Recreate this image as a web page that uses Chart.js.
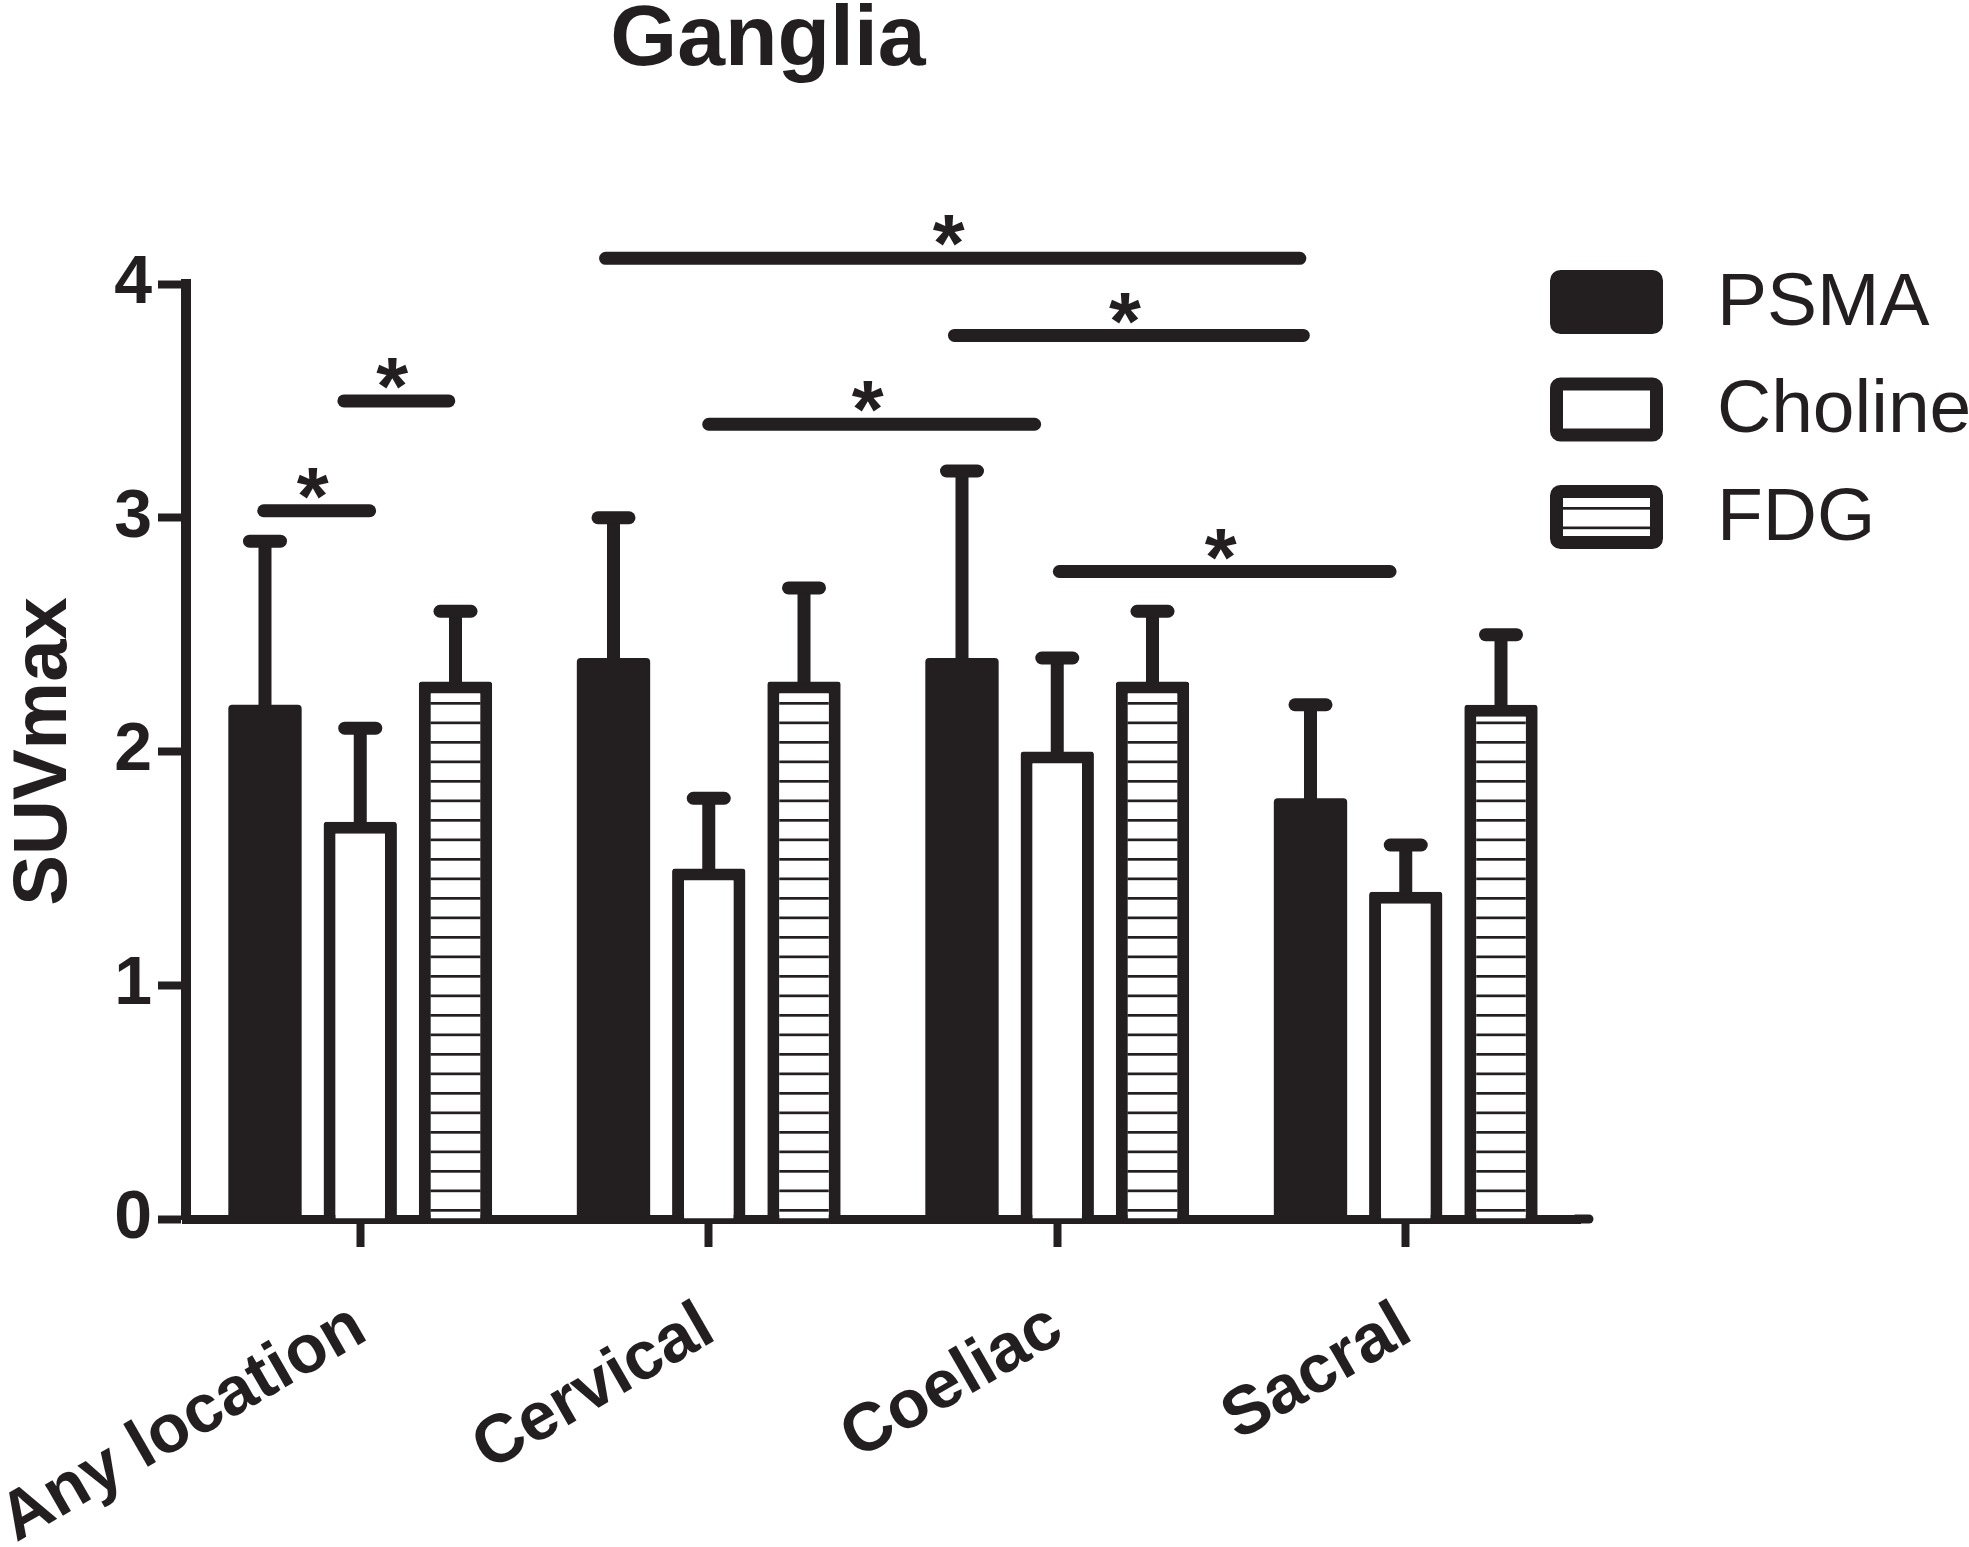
<!DOCTYPE html>
<html>
<head>
<meta charset="utf-8">
<script src="https://cdn.jsdelivr.net/npm/chart.js@4"></script>
<style>
  html, body { margin: 0; padding: 0; background: #ffffff; }
  #wrap { width: 1969px; height: 1547px; }
</style>
</head>
<body>
<div id="wrap"><canvas id="c" width="1969" height="1547"></canvas></div>
<script>
// ---------------- data ----------------
const chartTitle = 'Ganglia';
const yAxisTitle = 'SUVmax';
const categories = ['Any location', 'Cervical', 'Coeliac', 'Sacral'];
const seriesNames = ['PSMA', 'Choline', 'FDG'];
const psmaValues    = [2.2, 2.4, 2.4, 1.8];
const psmaErrors    = [0.7, 0.6, 0.8, 0.4];
const cholineValues = [1.7, 1.5, 2.0, 1.4];
const cholineErrors = [0.4, 0.3, 0.4, 0.2];
const fdgValues     = [2.3, 2.3, 2.3, 2.2];
const fdgErrors     = [0.3, 0.4, 0.3, 0.3];
const yTicks = [0, 1, 2, 3, 4];
// significance brackets: start / end (category-axis position), height (SUVmax), label
const sigFrom  = [-0.277, -0.047, 0.704, 1.705, 1.0, 2.006];
const sigTo    = [0.027, 0.254, 2.696, 2.706, 1.935, 2.955];
const sigLevel = [3.03, 3.50, 4.11, 3.78, 3.40, 2.77];
const sigText  = ['*', '*', '*', '*', '*', '*'];

// ---------------- styling ----------------
const INK = '#231f20';
const FONT = '"Liberation Sans", Arial, Helvetica, sans-serif';

function stripePattern() {
  const c = document.createElement('canvas');
  c.width = 8; c.height = 39;
  const g = c.getContext('2d');
  g.fillStyle = '#ffffff'; g.fillRect(0, 0, 8, 39);
  g.fillStyle = INK;
  g.fillRect(0, 0, 8, 2.7);
  g.fillRect(0, 19.5, 8, 2.7);
  return g.createPattern(c, 'repeat');
}
const fdgFill = stripePattern();

const errorSets = [psmaErrors, cholineErrors, fdgErrors];

function roundRectPath(ctx, x, y, w, h, r) {
  ctx.beginPath();
  ctx.moveTo(x + r, y);
  ctx.lineTo(x + w - r, y);
  ctx.arcTo(x + w, y, x + w, y + r, r);
  ctx.lineTo(x + w, y + h - r);
  ctx.arcTo(x + w, y + h, x + w - r, y + h, r);
  ctx.lineTo(x + r, y + h);
  ctx.arcTo(x, y + h, x, y + h - r, r);
  ctx.lineTo(x, y + r);
  ctx.arcTo(x, y, x + r, y, r);
  ctx.closePath();
}

const extrasPlugin = {
  id: 'extras',
  beforeDraw(chart) {
    const ctx = chart.ctx;
    ctx.save();
    ctx.fillStyle = '#ffffff';
    ctx.fillRect(0, 0, chart.width, chart.height);
    ctx.restore();
  },
  afterDatasetsDraw(chart) {
    const ctx = chart.ctx;
    const ys = chart.scales.y, xs = chart.scales.x;
    ctx.save();
    ctx.strokeStyle = INK;
    ctx.lineWidth = 13;
    // error bars (upper only)
    chart.data.datasets.forEach((ds, di) => {
      const meta = chart.getDatasetMeta(di);
      meta.data.forEach((bar, i) => {
        const v = ds.data[i], e = errorSets[di][i];
        const yTop = ys.getPixelForValue(v + e);
        const yBar = ys.getPixelForValue(v);
        ctx.lineCap = 'butt';
        ctx.beginPath();
        ctx.moveTo(bar.x, yBar + 2);
        ctx.lineTo(bar.x, yTop);
        ctx.stroke();
        ctx.lineCap = 'round';
        ctx.beginPath();
        ctx.moveTo(bar.x - 15.5, yTop);
        ctx.lineTo(bar.x + 15.5, yTop);
        ctx.stroke();
      });
    });
    // extend x axis a little beyond the last category, as in the original
    const a = chart.chartArea;
    ctx.lineWidth = 9;
    ctx.lineCap = 'round';
    ctx.beginPath();
    ctx.moveTo(a.right - 4, a.bottom);
    ctx.lineTo(a.right + 9, a.bottom);
    ctx.stroke();
    // significance brackets
    ctx.lineWidth = 13;
    ctx.lineCap = 'round';
    ctx.fillStyle = INK;
    ctx.font = 'bold 82px ' + FONT;
    ctx.textAlign = 'center';
    ctx.textBaseline = 'alphabetic';
    for (let k = 0; k < sigLevel.length; k++) {
      const x0 = xs.getPixelForValue(sigFrom[k]);
      const x1 = xs.getPixelForValue(sigTo[k]);
      const y = ys.getPixelForValue(sigLevel[k]);
      ctx.beginPath();
      ctx.moveTo(x0, y);
      ctx.lineTo(x1, y);
      ctx.stroke();
      ctx.fillText(sigText[k], (x0 + x1) / 2 - 4, y - 34 + 0.575 * 82);
    }
    ctx.restore();
  },
  afterDraw(chart) {
    const ctx = chart.ctx;
    ctx.save();
    // title
    ctx.fillStyle = INK;
    ctx.font = 'bold 86px ' + FONT;
    ctx.textAlign = 'center';
    ctx.textBaseline = 'alphabetic';
    ctx.fillText(chartTitle, 768, 65);
    // legend
    const bx = 1550, bw = 113, bh = 64, by0 = 270, step = 107.5, bord = 13;
    chart.data.datasets.forEach((ds, i) => {
      const by = by0 + i * step;
      roundRectPath(ctx, bx + bord / 2, by + bord / 2, bw - bord, bh - bord, 4);
      ctx.fillStyle = ds.backgroundColor;
      ctx.fill();
      ctx.lineWidth = bord;
      ctx.lineJoin = 'round';
      ctx.strokeStyle = INK;
      ctx.stroke();
      ctx.fillStyle = INK;
      ctx.font = '75px ' + FONT;
      ctx.textAlign = 'left';
      ctx.textBaseline = 'middle';
      ctx.fillText(ds.label, 1717, by + bh / 2 + 2);
    });
    ctx.restore();
  }
};

const chart = new Chart(document.getElementById('c'), {
  type: 'bar',
  data: {
    labels: categories,
    datasets: [
      { label: seriesNames[0], data: psmaValues, backgroundColor: INK, borderColor: INK, borderWidth: 0, borderRadius: 4 },
      { label: seriesNames[1], data: cholineValues, backgroundColor: '#ffffff', borderColor: INK, borderWidth: 12, borderRadius: 3 },
      { label: seriesNames[2], data: fdgValues, backgroundColor: fdgFill, borderColor: INK, borderWidth: 12, borderRadius: 3 }
    ]
  },
  options: {
    responsive: false,
    animation: false,
    devicePixelRatio: 1,
    categoryPercentage: 0.82,
    barPercentage: 0.77,
    layout: { padding: { left: 0, top: 284, right: 389, bottom: 0 } },
    plugins: {
      legend: { display: false },
      title: { display: false },
      tooltip: { enabled: false }
    },
    scales: {
      x: {
        grid: { display: true, offset: false, drawOnChartArea: false, drawTicks: true, tickLength: 28, tickWidth: 8, tickColor: INK },
        border: { display: true, width: 9, color: INK },
        ticks: {
          color: INK,
          font: { family: FONT, size: 68, weight: 'bold' },
          minRotation: 30, maxRotation: 30, autoSkip: false, padding: 40
        },
        afterFit(s) { s.height = 328; s.paddingLeft = 0; s.paddingRight = 0; }
      },
      y: {
        min: yTicks[0], max: yTicks[yTicks.length - 1],
        afterBuildTicks(s) { s.ticks = yTicks.map(v => ({ value: v })); },
        grid: { display: true, drawOnChartArea: false, drawTicks: true, tickLength: 28, tickWidth: 8, tickColor: INK },
        border: { display: true, width: 10, color: INK },
        ticks: { color: INK, font: { family: FONT, size: 68, weight: 'bold' }, padding: 6 },
        title: {
          display: true, text: yAxisTitle, color: INK,
          font: { family: FONT, size: 76, weight: 'bold', lineHeight: 1 },
          padding: { top: 7, bottom: 0 }
        },
        afterFit(s) { s.width = 186; }
      }
    }
  },
  plugins: [extrasPlugin]
});
</script>
</body>
</html>
